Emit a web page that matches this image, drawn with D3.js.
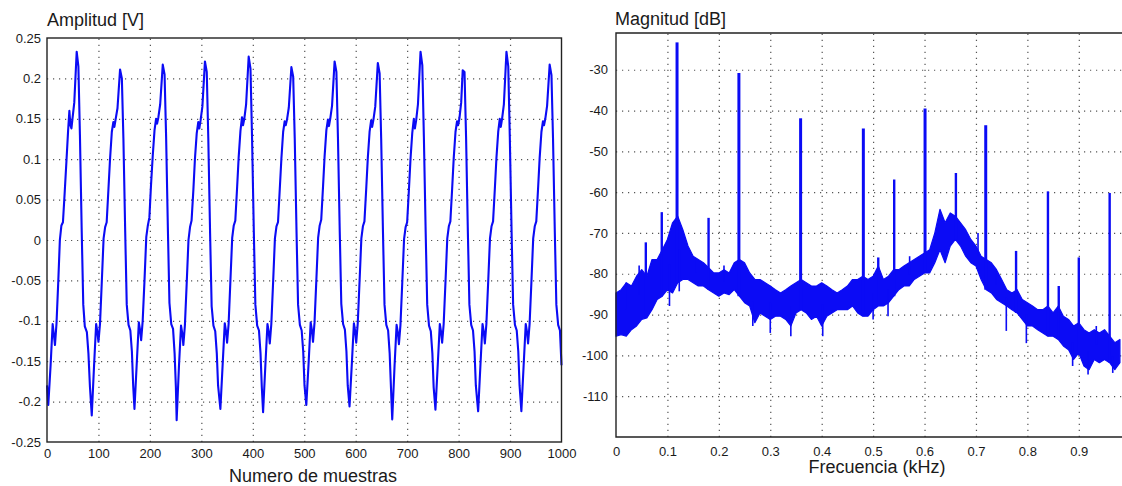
<!DOCTYPE html>
<html><head><meta charset="utf-8">
<script src="https://cdn.jsdelivr.net/npm/d3@7"></script>
<style>
body{margin:0;background:#fff}
svg{display:block}
text{font-family:Arial,"Liberation Sans",sans-serif;fill:#1a1a1a}
</style>
</head><body>
<svg id="c" width="1122" height="486"></svg>
<script>
// ---------- Left: time waveform (sample index, amplitude V) ----------
const waveform = [
[0,-0.18],[2.5,-0.204],[7,-0.155],[11,-0.104],[13.5,-0.118],[15.5,-0.13],[18.5,-0.103],[22,-0.05],[25,0.0],[28,0.018],[31,0.022],[34.5,0.06],[38,0.1],[41,0.135],[43.5,0.16],[45.5,0.142],[47.5,0.138],[49.5,0.15],[53,0.17],[57.7,0.233],[61,0.215],[64,0.13],[67.5,0.01],[70.5,-0.08],[73.5,-0.107],[77.5,-0.114],[80.5,-0.14],[83.5,-0.182],
[87,-0.217],[91.5,-0.155],[95.5,-0.104],[98,-0.114],[100,-0.126],[103,-0.104],[106.5,-0.052],[110,0.002],[113,0.016],[116,0.022],[119.5,0.064],[122.5,0.1],[126,0.134],[129,0.146],[131,0.14],[133.5,0.15],[137,0.163],[142,0.211],[145.5,0.2],[148.5,0.126],[152,0.01],[155,-0.08],[158.5,-0.105],[162,-0.112],[165,-0.138],[167.5,-0.18],
[170,-0.209],[174.5,-0.152],[178.5,-0.102],[181,-0.112],[183,-0.124],[186,-0.1],[189.5,-0.05],[193,0.004],[196,0.018],[199,0.028],[202,0.066],[205.5,0.104],[209,0.136],[212,0.15],[214,0.144],[216.5,0.152],[220,0.168],[225,0.217],[228.5,0.205],[231.5,0.128],[235,0.012],[238,-0.078],[241.5,-0.104],[245,-0.11],[248,-0.14],[250.5,-0.182],
[252,-0.223],[256.5,-0.156],[260.5,-0.106],[263,-0.116],[265,-0.13],[268,-0.106],[271.5,-0.054],[275,0.0],[278,0.016],[281,0.024],[284.5,0.062],[287.5,0.1],[291,0.132],[294,0.146],[296,0.138],[298.5,0.148],[302,0.165],[307,0.221],[310.5,0.208],[313.5,0.126],[317,0.008],[320,-0.082],[323.5,-0.106],[327,-0.113],[330,-0.14],[332.5,-0.18],
[337,-0.209],[341.5,-0.153],[345.5,-0.103],[348,-0.113],[350,-0.127],[353,-0.104],[356.5,-0.05],[360,0.003],[363,0.018],[366,0.024],[369.5,0.065],[372.5,0.102],[376,0.135],[379,0.152],[381,0.142],[383.5,0.15],[387,0.168],[392,0.227],[395.5,0.212],[398.5,0.128],[402,0.01],[405,-0.08],[408.5,-0.106],[412,-0.112],[415,-0.14],[417.5,-0.182],
[420,-0.213],[424.5,-0.154],[428.5,-0.104],[431,-0.114],[433,-0.128],[436,-0.104],[439.5,-0.052],[443,0.002],[446,0.017],[449,0.022],[452.5,0.064],[455.5,0.1],[459,0.134],[462,0.147],[464,0.142],[466.5,0.149],[470,0.164],[475,0.214],[478.5,0.202],[481.5,0.126],[485,0.01],[488,-0.08],[491.5,-0.105],[495,-0.112],[498,-0.138],[500.5,-0.18],
[504,-0.204],[508.5,-0.152],[512.5,-0.102],[515,-0.112],[517,-0.126],[520,-0.102],[523.5,-0.05],[527,0.003],[530,0.018],[533,0.025],[536.5,0.066],[539.5,0.103],[543,0.136],[546,0.149],[548,0.141],[550.5,0.15],[554,0.166],[559,0.221],[562.5,0.208],[565.5,0.127],[569,0.01],[572,-0.079],[575.5,-0.104],[579,-0.111],[582,-0.138],[584.5,-0.18],
[588,-0.206],[592.5,-0.153],[596.5,-0.103],[599,-0.113],[601,-0.127],[604,-0.103],[607.5,-0.051],[611,0.002],[614,0.017],[617,0.023],[620.5,0.064],[623.5,0.101],[627,0.134],[630,0.148],[632,0.14],[634.5,0.149],[638,0.165],[643,0.219],[646.5,0.206],[649.5,0.126],[653,0.01],[656,-0.08],[659.5,-0.105],[663,-0.112],[666,-0.14],[668.5,-0.182],
[671,-0.222],[675.5,-0.156],[679.5,-0.105],[682,-0.115],[684,-0.129],[687,-0.105],[690.5,-0.053],[694,0.001],[697,0.016],[700,0.022],[703.5,0.063],[706.5,0.1],[710,0.133],[713,0.15],[715,0.138],[717.5,0.148],[721,0.168],[726,0.233],[729.5,0.216],[732.5,0.128],[736,0.01],[739,-0.08],[742.5,-0.106],[746,-0.113],[749,-0.14],[751.5,-0.182],
[755,-0.21],[759.5,-0.154],[763.5,-0.104],[766,-0.114],[768,-0.127],[771,-0.104],[774.5,-0.052],[778,0.002],[781,0.017],[784,0.023],[787.5,0.064],[790.5,0.101],[794,0.134],[797,0.147],[799,0.142],[801.5,0.15],[805,0.17],[808,0.21],[811.5,0.208],[814.5,0.128],[818,0.01],[821,-0.08],[824.5,-0.105],[828,-0.112],[831,-0.138],[833.5,-0.18],
[838,-0.212],[842.5,-0.154],[846.5,-0.104],[849,-0.114],[851,-0.128],[854,-0.104],[857.5,-0.052],[861,0.002],[864,0.017],[867,0.023],[870.5,0.064],[873.5,0.101],[877,0.134],[880,0.15],[882,0.14],[884.5,0.15],[888,0.168],[893,0.233],[896.5,0.215],[899.5,0.128],[903,0.01],[906,-0.08],[909.5,-0.105],[913,-0.112],[916,-0.138],[918.5,-0.18],
[922,-0.212],[926.5,-0.154],[930.5,-0.104],[933,-0.114],[935,-0.128],[938,-0.104],[941.5,-0.052],[945,0.002],[948,0.017],[951,0.023],[954.5,0.064],[957.5,0.101],[961,0.134],[964,0.147],[966,0.142],[968.5,0.15],[972,0.166],[977,0.217],[980.5,0.204],[983.5,0.126],[987,0.01],[990,-0.08],[993.5,-0.105],[997,-0.112],[1000,-0.155]
];
const sampleTicks = [0,100,200,300,400,500,600,700,800,900,1000];
const ampTicks = [-0.25,-0.2,-0.15,-0.1,-0.05,0,0.05,0.1,0.15,0.2,0.25];

// ---------- Right: spectrum (kHz, dB) ----------
const bandFreq = [0,0.01,0.02,0.03,0.04,0.05,0.06,0.07,0.08,0.09,0.1,0.11,0.12,0.13,0.14,0.15,0.16,0.17,0.18,0.19,0.2,0.21,0.22,0.23,0.24,0.25,0.26,0.27,0.28,0.29,0.3,0.31,0.32,0.33,0.34,0.35,0.36,0.37,0.38,0.39,0.4,0.41,0.42,0.43,0.44,0.45,0.46,0.47,0.48,0.49,0.5,0.51,0.52,0.53,0.54,0.55,0.56,0.57,0.58,0.59,0.6,0.61,0.62,0.63,0.64,0.65,0.66,0.67,0.68,0.69,0.7,0.71,0.72,0.73,0.74,0.75,0.76,0.77,0.78,0.79,0.8,0.81,0.82,0.83,0.84,0.85,0.86,0.87,0.88,0.89,0.9,0.91,0.92,0.93,0.94,0.95,0.96,0.97,0.98];
const bandUpper = [-84.7,-83.9,-82.2,-83.0,-80.6,-79.0,-80.6,-76.5,-76.5,-74.1,-71.6,-67.5,-65.9,-69.2,-73.2,-75.7,-76.5,-77.3,-78.5,-79.8,-79.8,-79.0,-79.8,-77.3,-76.5,-77.3,-79.8,-81.4,-81.4,-82.2,-83.0,-83.9,-84.7,-83.9,-83.0,-82.2,-81.4,-82.2,-83.0,-83.0,-82.2,-83.0,-83.9,-84.7,-83.9,-83.0,-81.4,-81.4,-80.6,-81.4,-80.6,-78.1,-81.4,-80.6,-79.0,-79.0,-78.1,-77.3,-76.5,-75.7,-74.9,-74.1,-70.0,-64.2,-67.5,-65.1,-65.9,-67.5,-69.2,-71.6,-73.2,-75.7,-76.5,-77.3,-79.0,-81.4,-83.9,-84.7,-83.9,-86.3,-87.1,-87.9,-88.8,-88.8,-87.9,-89.6,-87.9,-90.4,-91.2,-92.8,-92.0,-93.7,-94.5,-93.7,-94.5,-93.7,-95.3,-96.9,-96.1];
const bandLower = [-95.3,-94.9,-95.3,-93.7,-92.8,-91.2,-90.8,-88.8,-86.3,-85.5,-83.9,-84.7,-82.2,-81.4,-81.4,-82.2,-83.0,-83.0,-83.9,-84.7,-85.5,-84.7,-85.1,-83.9,-85.5,-87.1,-87.9,-92.0,-89.6,-90.4,-91.2,-90.4,-90.4,-91.2,-92.8,-89.6,-88.8,-89.6,-91.2,-90.4,-92.8,-90.4,-89.6,-88.8,-88.8,-88.8,-87.9,-89.6,-90.4,-90.4,-88.8,-87.9,-87.9,-87.1,-85.5,-83.9,-83.0,-83.0,-81.4,-80.6,-79.8,-79.8,-77.3,-74.1,-77.3,-73.2,-71.6,-73.2,-75.7,-77.3,-78.1,-81.4,-83.9,-84.7,-86.3,-87.1,-87.9,-88.8,-89.6,-91.2,-92.8,-92.8,-93.7,-94.5,-95.3,-95.3,-96.1,-97.7,-98.6,-101.0,-99.4,-102.6,-103.5,-101.0,-101.8,-101.0,-101.8,-103.5,-101.8];
// harmonic peaks
const peakFreq = [0.058,0.089,0.1187,0.18,0.239,0.359,0.481,0.51,0.541,0.601,0.661,0.719,0.778,0.84,0.861,0.9,0.96];
const peakDb = [-72.3,-64.9,-23.3,-66.3,-30.8,-41.9,-44.4,-76,-56.9,-39.5,-55.3,-43.6,-74.4,-59.8,-83,-76,-60.2];
// small noise spikes beyond the band (up and down)
const spikeFreq = [0.019,0.045,0.104,0.123,0.156,0.21,0.266,0.3,0.34,0.402,0.5,0.529,0.571,0.704,0.739,0.759,0.798,0.888,0.918,0.934,0.966];
const spikeDb = [-82.2,-78,-87.9,-84.3,-76.5,-78,-92.8,-94.5,-95.3,-95.3,-91.2,-90.4,-75.7,-70,-79,-94,-97,-102.6,-104.7,-92.8,-104.3];
const freqTicks = [0,0.1,0.2,0.3,0.4,0.5,0.6,0.7,0.8,0.9];
const dbTicks = [-110,-100,-90,-80,-70,-60,-50,-40,-30];

const BLUE = "#0b0bf5";
const svg = d3.select("#c");

function styleGrid(g){
  g.select(".domain").remove();
  g.selectAll("line").attr("stroke","#555").attr("stroke-width",1.2).attr("stroke-dasharray","1.2,4.8");
}
function styleLabels(g, size){
  g.select(".domain").remove();
  g.selectAll("line").remove();
  g.selectAll("text").style("font-size",size+"px").attr("fill","#1a1a1a");
}
const fmt = d => String(+d.toFixed(3));

// ===== Left chart =====
const L = {l:47, r:561.5, t:38, b:442};
const xL = d3.scaleLinear().domain([0,1000]).range([L.l,L.r]);
const yL = d3.scaleLinear().domain([-0.25,0.25]).range([L.b,L.t]);

svg.append("g").attr("transform",`translate(0,${L.b})`)
  .call(d3.axisBottom(xL).tickValues(sampleTicks.slice(1,-1)).tickSize(-(L.b-L.t)).tickFormat(""))
  .call(styleGrid);
svg.append("g").attr("transform",`translate(${L.l},0)`)
  .call(d3.axisLeft(yL).tickValues(ampTicks.slice(1,-1)).tickSize(-(L.r-L.l)).tickFormat(""))
  .call(styleGrid);

svg.append("path").datum(waveform)
  .attr("fill","none").attr("stroke",BLUE).attr("stroke-width",2.1).attr("stroke-linejoin","round")
  .attr("d", d3.line().x(d=>xL(d[0])).y(d=>yL(d[1])));

svg.append("rect").attr("x",L.l).attr("y",L.t).attr("width",L.r-L.l).attr("height",L.b-L.t)
  .attr("fill","none").attr("stroke","#222").attr("stroke-width",1.4);

svg.append("g").attr("transform",`translate(0,${L.b})`)
  .call(d3.axisBottom(xL).tickValues(sampleTicks).tickSize(0).tickPadding(7).tickFormat(fmt))
  .call(g=>styleLabels(g,13));
svg.append("g").attr("transform",`translate(${L.l},0)`)
  .call(d3.axisLeft(yL).tickValues(ampTicks).tickSize(0).tickPadding(6).tickFormat(fmt))
  .call(g=>styleLabels(g,13));

svg.append("text").attr("x",47).attr("y",26).style("font-size","18px").text("Amplitud [V]");
svg.append("text").attr("x",313).attr("y",482).attr("text-anchor","middle").style("font-size","18px").text("Numero de muestras");

// ===== Right chart =====
const R = {l:616, r:1122, t:33, b:437};
const xR = d3.scaleLinear().domain([0,0.984]).range([R.l,R.r]);
const yR = d3.scaleLinear().domain([-120,-21]).range([R.b,R.t]);

svg.append("g").attr("transform",`translate(0,${R.b})`)
  .call(d3.axisBottom(xR).tickValues(freqTicks.slice(1)).tickSize(-(R.b-R.t)).tickFormat(""))
  .call(styleGrid);
svg.append("g").attr("transform",`translate(${R.l},0)`)
  .call(d3.axisLeft(yR).tickValues(dbTicks).tickSize(-(R.r-R.l)).tickFormat(""))
  .call(styleGrid);

const band = bandFreq.map((f,i)=>({f, u:bandUpper[i], lo:bandLower[i]}));
svg.append("path").datum(band)
  .attr("fill",BLUE).attr("stroke",BLUE).attr("stroke-width",1.2).attr("stroke-linejoin","round")
  .attr("d", d3.area().x(d=>xR(d.f)).y0(d=>yR(d.lo)).y1(d=>yR(d.u)));

const idxAt = f => Math.min(bandFreq.length-1, Math.max(0, Math.round(f/0.01)));
const midAt = f => (bandLower[idxAt(f)] + bandUpper[idxAt(f)]) / 2;

svg.append("g").selectAll("line").data(spikeFreq.map((f,i)=>({f, db:spikeDb[i]})))
  .join("line")
  .attr("x1",d=>xR(d.f)).attr("x2",d=>xR(d.f))
  .attr("y1",d=>yR(midAt(d.f))).attr("y2",d=>yR(d.db))
  .attr("stroke",BLUE).attr("stroke-width",1.6);

svg.append("g").selectAll("line").data(peakFreq.map((f,i)=>({f, db:peakDb[i]})))
  .join("line")
  .attr("x1",d=>xR(d.f)).attr("x2",d=>xR(d.f))
  .attr("y1",d=>yR(bandLower[idxAt(d.f)])).attr("y2",d=>yR(d.db))
  .attr("stroke",BLUE).attr("stroke-width",d=>d.db>-45?3:2.4);

svg.append("path")
  .attr("d",`M${R.r+5},${R.t}H${R.l}V${R.b}H${R.r+5}`)
  .attr("fill","none").attr("stroke","#222").attr("stroke-width",1.4);

svg.append("g").attr("transform",`translate(0,${R.b})`)
  .call(d3.axisBottom(xR).tickValues(freqTicks).tickSize(0).tickPadding(10).tickFormat(fmt))
  .call(g=>styleLabels(g,13));
svg.append("g").attr("transform",`translate(${R.l},0)`)
  .call(d3.axisLeft(yR).tickValues(dbTicks).tickSize(0).tickPadding(8).tickFormat(fmt))
  .call(g=>styleLabels(g,13));

svg.append("text").attr("x",615).attr("y",25).style("font-size","18px").text("Magnitud [dB]");
svg.append("text").attr("x",877).attr("y",473).attr("text-anchor","middle").style("font-size","18px").text("Frecuencia (kHz)");
</script>
</body></html>
